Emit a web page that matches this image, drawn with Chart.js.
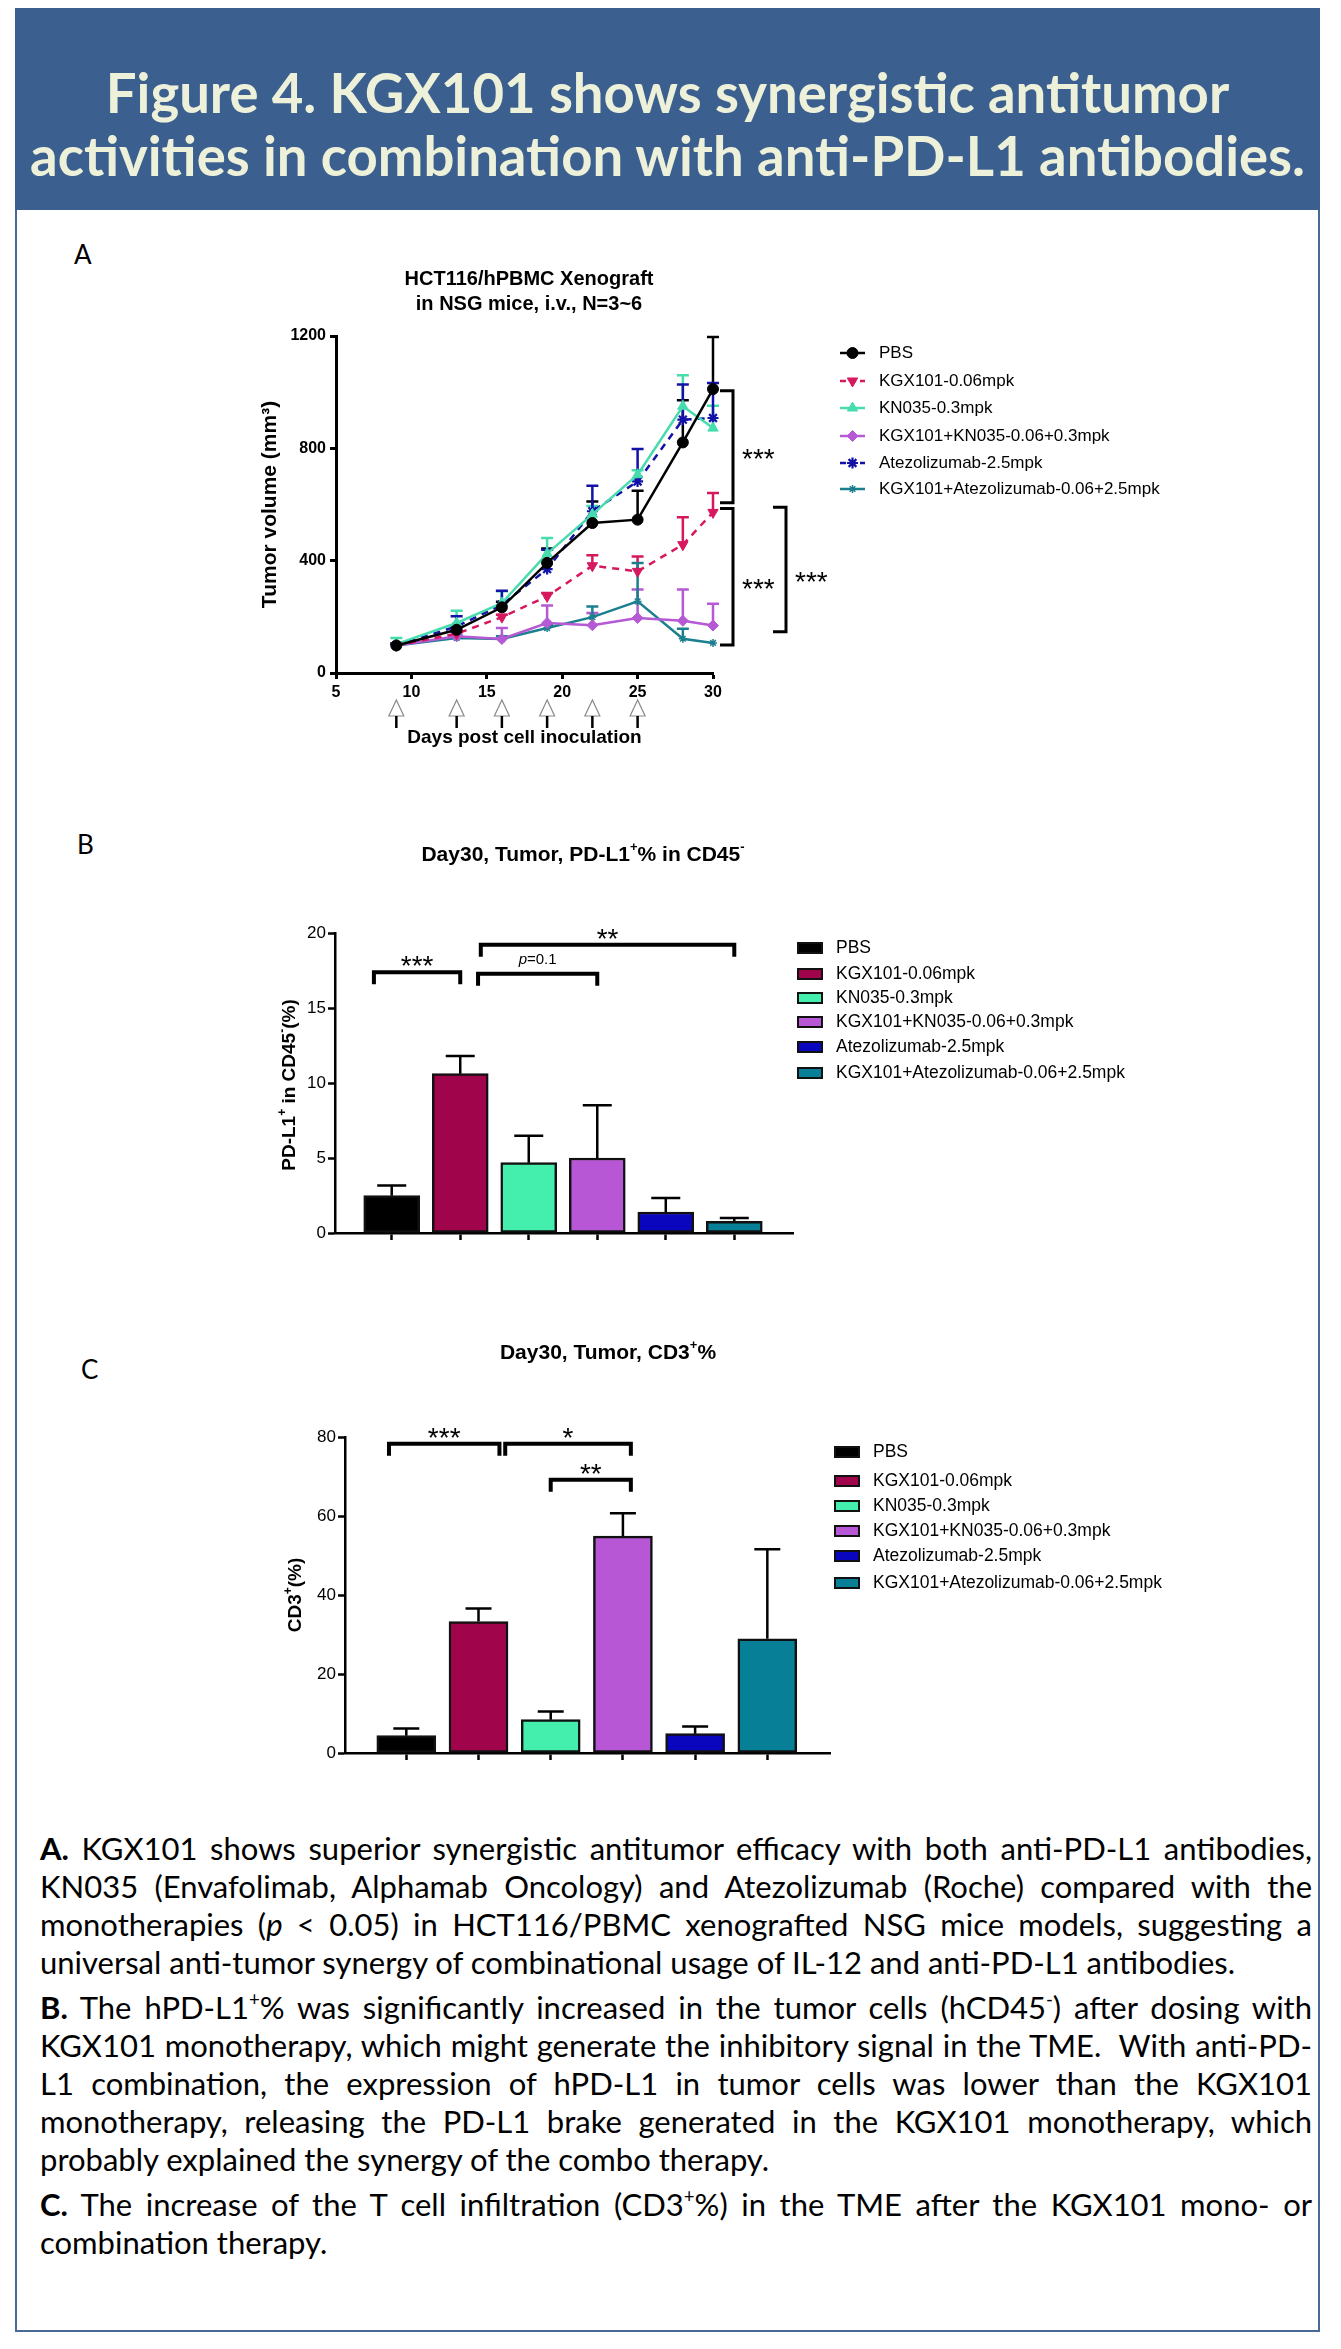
<!DOCTYPE html>
<html>
<head>
<meta charset="utf-8">
<title>Figure 4</title>
<script src="https://cdn.jsdelivr.net/npm/chart.js@4.4.1/dist/chart.umd.min.js"></script>
<style>
  html, body { margin: 0; padding: 0; background: #fff; }
  body { position: relative; width: 1341px; height: 2349px; overflow: hidden; }
  #header { position: absolute; left: 15px; top: 8px; width: 1305px; height: 202px; background: #3b5f8f; color: #eef1d9;
            font-family: Lato, "Open Sans", sans-serif; font-weight: bold; font-size: 46px; line-height: 63px;
            text-align: center; padding-top: 53px; box-sizing: border-box; white-space: nowrap; }
  #panel { position: absolute; left: 15px; top: 210px; width: 1305px; height: 2122px; border: 2px solid #4a6a96;
           border-top: none; box-sizing: border-box; }
  .tag { position: absolute; font-family: Lato, sans-serif; font-size: 26px; line-height: 26px; }
  canvas { position: absolute; }
  #text { position: absolute; left: 40px; top: 1829px; width: 1272px; font-family: Lato, sans-serif; font-size: 27px; color: #000; }
  #text .l { height: 38px; line-height: 38px; }
  #text .p + .p { margin-top: 7px; }
  #text .j { text-align: justify; text-align-last: justify; }
  sup { font-size: 60%; line-height: 0; vertical-align: 0.7em; }
</style>
</head>
<body>
<div id="header"><span id="h1">Figure 4. KGX101 shows synergistic antitumor</span><br><span id="h2">activities in combination with anti-PD-L1 antibodies.</span></div>
<div id="panel"></div>
<div class="tag" style="left:74px;top:241px">A</div>
<div class="tag" style="left:77px;top:831px">B</div>
<div class="tag" style="left:81px;top:1356px">C</div>

<canvas id="chartA" width="1140" height="540" style="left:140px;top:240px"></canvas>
<canvas id="chartB" width="1140" height="440" style="left:140px;top:830px"></canvas>
<canvas id="chartC" width="1140" height="500" style="left:140px;top:1300px"></canvas>

<div id="text">
  <div class="p">
    <div class="l" data-j="1"><span><b>A.</b> KGX101 shows superior synergistic antitumor efficacy with both anti-PD-L1 antibodies,</span></div>
    <div class="l" data-j="1"><span>KN035 (Envafolimab, Alphamab Oncology) and Atezolizumab (Roche) compared with the</span></div>
    <div class="l" data-j="1"><span>monotherapies (<i>p</i> &lt; 0.05) in HCT116/PBMC xenografted NSG mice models, suggesting a</span></div>
    <div class="l"><span>universal anti-tumor synergy of combinational usage of IL-12 and anti-PD-L1 antibodies.</span></div>
  </div>
  <div class="p">
    <div class="l" data-j="1"><span><b>B.</b> The hPD-L1<sup>+</sup>% was significantly increased in the tumor cells (hCD45<sup>-</sup>) after dosing with</span></div>
    <div class="l" data-j="1"><span>KGX101 monotherapy, which might generate the inhibitory signal in the TME.&nbsp; With anti-PD-</span></div>
    <div class="l" data-j="1"><span>L1 combination, the expression of hPD-L1 in tumor cells was lower than the KGX101</span></div>
    <div class="l" data-j="1"><span>monotherapy, releasing the PD-L1 brake generated in the KGX101 monotherapy, which</span></div>
    <div class="l"><span>probably explained the synergy of the combo therapy.</span></div>
  </div>
  <div class="p">
    <div class="l" data-j="1"><span><b>C.</b> The increase of the T cell infiltration (CD3<sup>+</sup>%) in the TME after the KGX101 mono- or</span></div>
    <div class="l"><span>combination therapy.</span></div>
  </div>
</div>

<script>
const FONT = '"Liberation Sans", Arial, Helvetica, sans-serif';
Chart.defaults.font.family = FONT;
Chart.defaults.color = '#000';
Chart.defaults.animation = false;

// ---- data ----
const groups = ['PBS', 'KGX101-0.06mpk', 'KN035-0.3mpk', 'KGX101+KN035-0.06+0.3mpk',
                'Atezolizumab-2.5mpk', 'KGX101+Atezolizumab-0.06+2.5mpk'];

// A: tumor volume (mm3), mean and SEM per measuring day
const days = [9, 13, 16, 19, 22, 25, 28, 30];
const doseDays = [9, 13, 16, 19, 22, 25];
const dayTicks = [5, 10, 15, 20, 25, 30];
const volTicks = [0, 400, 800, 1200];

const pbsVol = [98, 154, 234, 392, 534, 546, 821, 1011];
const pbsSem = [8, 14, 20, 51, 77, 103, 150, 185];
const kgxVol = [98, 140, 199, 273, 382, 362, 457, 572];
const kgxSem = [6, 8, 8, 12, 37, 53, 98, 69];
const kn035Vol = [103, 178, 249, 425, 565, 706, 950, 872];
const kn035Sem = [22, 44, 42, 56, 30, 16, 110, 80];
const kgxKn035Vol = [98, 131, 121, 178, 170, 196, 186, 169];
const kgxKn035Sem = [6, 10, 39, 62, 44, 101, 111, 78];
const atezoVol = [98, 166, 243, 370, 576, 682, 902, 908];
const atezoSem = [6, 36, 50, 69, 91, 116, 125, 125];
const kgxAtezoVol = [98, 125, 121, 160, 199, 255, 122, 107];
const kgxAtezoSem = [6, 8, 10, 12, 38, 137, 36, 0];

const volMeans = [pbsVol, kgxVol, kn035Vol, kgxKn035Vol, atezoVol, kgxAtezoVol];
const volSems = [pbsSem, kgxSem, kn035Sem, kgxKn035Sem, atezoSem, kgxAtezoSem];

// significance brackets on the right of A (volume range, column)
const volSig = [
  { from: 1005, to: 606, label: '***', col: 0 },
  { from: 586, to: 100, label: '***', col: 0 },
  { from: 590, to: 147, label: '***', col: 1 }
];

// B: PD-L1+ % in CD45-
const pdl1Mean = [2.49, 10.62, 4.69, 5.0, 1.4, 0.78];
const pdl1Sem = [0.67, 1.18, 1.8, 3.51, 0.93, 0.22];
const pdl1Ticks = [0, 5, 10, 15, 20];
const pdl1Sig = [
  { x1: 0.74, x2: 2.0, y: 17.38, label: '***' },
  { x1: 2.26, x2: 4.0, y: 17.29, label: 'p=0.1' },
  { x1: 2.3, x2: 6.0, y: 19.22, label: '**' }
];

// C: CD3+ %
const cd3Mean = [4.39, 33.3, 8.44, 54.9, 4.9, 28.9];
const cd3Sem = [1.81, 3.3, 2.06, 5.8, 1.8, 22.7];
const cd3Ticks = [0, 20, 40, 60, 80];
const cd3Sig = [
  { x1: 0.76, x2: 2.29, y: 78.3, label: '***' },
  { x1: 2.37, x2: 4.11, y: 78.3, label: '*' },
  { x1: 3.0, x2: 4.11, y: 69.2, label: '**' }
];

// ---- looks ----
const lineColors = ['#000000', '#d6195f', '#47dcae', '#b55ad4', '#1212a6', '#1b7f8e'];
const barColors = ['#000000', '#a0044a', '#44eead', '#b857d6', '#0a06be', '#077f96'];
const lineLook = [
  { style: 'circle', r: 5.5, dash: [] },
  { style: 'triangle', r: 6, rot: 180, dash: [7, 6] },
  { style: 'triangle', r: 6, dash: [] },
  { style: 'rectRot', r: 5.5, dash: [] },
  { style: 'star', r: 5.5, dash: [7, 6], bw: 2.2 },
  { style: 'star', r: 4, dash: [], bw: 1.5 }
];

// ---- fit the html text ----
(function () {
  const h2 = document.getElementById('h2');
  const header = document.getElementById('header');
  header.style.fontSize = (46 * 1275 / h2.getBoundingClientRect().width) + 'px';

  const text = document.getElementById('text');
  const spans = [...text.querySelectorAll('.l span')];
  const ws = spans.map(s => s.getBoundingClientRect().width);
  let fs = 27 * 1195 / ws[3];
  const widest = Math.max(...ws.filter((w, i) => spans[i].parentNode.dataset.j));
  fs = Math.min(fs, 27 * 1266 / widest);
  text.style.fontSize = fs + 'px';
  text.querySelectorAll('.l[data-j]').forEach(d => d.classList.add('j'));
})();

// ---- helpers ----
function fixTicks(values) {
  return s => { s.ticks = values.map(v => ({ value: v })); };
}

// parts: [[text, isSup], ...]
function richText(ctx, parts, x, y, size, rotate) {
  ctx.save();
  ctx.translate(x, y);
  if (rotate) ctx.rotate(-Math.PI / 2);
  const base = 'bold ' + size + 'px ' + FONT;
  const sup = 'bold ' + Math.round(size * 0.62) + 'px ' + FONT;
  let w = 0;
  parts.forEach(p => { ctx.font = p[1] ? sup : base; w += ctx.measureText(p[0]).width; });
  let cx = -w / 2;
  ctx.textAlign = 'left';
  ctx.textBaseline = 'middle';
  ctx.fillStyle = '#000';
  parts.forEach(p => {
    ctx.font = p[1] ? sup : base;
    ctx.fillText(p[0], cx, p[1] ? -size * 0.38 : 0);
    cx += ctx.measureText(p[0]).width;
  });
  ctx.restore();
}

function sigLabel(ctx, label, x, cy, align) {
  ctx.save();
  ctx.fillStyle = '#000';
  ctx.textBaseline = 'alphabetic';
  if (label[0] === 'p') {
    ctx.font = 'italic 15px ' + FONT;
    const w1 = ctx.measureText('p').width;
    ctx.font = '15px ' + FONT;
    const w2 = ctx.measureText(label.slice(1)).width;
    const x0 = align === 'center' ? x - (w1 + w2) / 2 : x;
    ctx.textAlign = 'left';
    ctx.font = 'italic 15px ' + FONT;
    ctx.fillText('p', x0, cy + 5.5);
    ctx.font = '15px ' + FONT;
    ctx.fillText(label.slice(1), x0 + w1, cy + 5.5);
  } else {
    ctx.textAlign = align;
    ctx.font = '28px ' + FONT;
    ctx.fillText(label, x, cy + 16);
  }
  ctx.restore();
}

function drawErrors(chart, sems, cap, colorOf) {
  const ctx = chart.ctx, ys = chart.scales.y;
  ctx.save();
  ctx.lineWidth = 2.5;
  ctx.setLineDash([]);
  sems.forEach((sem, di) => {
    const meta = chart.getDatasetMeta(di);
    const ds = chart.data.datasets[di];
    meta.data.forEach((el, i) => {
      if (!sem[i]) return;
      const top = ys.getPixelForValue(ds.data[i].y + sem[i]);
      ctx.strokeStyle = colorOf(di);
      ctx.beginPath();
      ctx.moveTo(el.x, el.y);
      ctx.lineTo(el.x, top);
      ctx.moveTo(el.x - cap / 2, top);
      ctx.lineTo(el.x + cap / 2, top);
      ctx.stroke();
    });
  });
  ctx.restore();
}

const axisGrid = w => ({ offset: false, drawOnChartArea: false, drawTicks: true, tickLength: w.len, tickWidth: w.width, tickColor: '#000' });

// ---- A: tumor growth curves ----
const panelA = {
  id: 'panelA',
  beforeDatasetsDraw(chart) {
    drawErrors(chart, volSems, 12, di => lineColors[di]);
  },
  afterDraw(chart) {
    const ctx = chart.ctx, area = chart.chartArea, xs = chart.scales.x, ys = chart.scales.y;
    richText(ctx, [['HCT116/hPBMC Xenograft']], 389, 39, 20);
    richText(ctx, [['in NSG mice, i.v., N=3~6']], 389, 64, 20);

    // dosing arrows
    ctx.save();
    doseDays.forEach(d => {
      const x = xs.getPixelForValue(d), b = area.bottom;
      ctx.beginPath();
      ctx.moveTo(x, b + 27);
      ctx.lineTo(x - 7.5, b + 43);
      ctx.lineTo(x + 7.5, b + 43);
      ctx.closePath();
      ctx.strokeStyle = '#8a8a8a';
      ctx.lineWidth = 1.2;
      ctx.stroke();
      ctx.beginPath();
      ctx.moveTo(x, b + 43);
      ctx.lineTo(x, b + 55);
      ctx.strokeStyle = '#000';
      ctx.lineWidth = 2.5;
      ctx.stroke();
    });

    // brackets
    volSig.forEach(s => {
      const x = area.right + 20 + s.col * 53;
      const y1 = ys.getPixelForValue(s.from), y2 = ys.getPixelForValue(s.to);
      ctx.beginPath();
      ctx.moveTo(x - 13, y1);
      ctx.lineTo(x, y1);
      ctx.lineTo(x, y2);
      ctx.lineTo(x - 13, y2);
      ctx.lineWidth = 3;
      ctx.strokeStyle = '#000';
      ctx.stroke();
      sigLabel(ctx, s.label, x + 9, (y1 + y2) / 2 + 5, 'left');
    });

    // legend
    const ly = [113, 141, 168, 196, 223, 249];
    groups.forEach((g, k) => {
      const look = lineLook[k];
      ctx.strokeStyle = lineColors[k];
      ctx.fillStyle = lineColors[k];
      ctx.lineWidth = 2.5;
      ctx.setLineDash(look.dash.length ? [6, 4] : []);
      ctx.beginPath();
      ctx.moveTo(700, ly[k]);
      ctx.lineTo(725, ly[k]);
      ctx.stroke();
      ctx.setLineDash([]);
      ctx.lineWidth = look.bw || 1;
      Chart.helpers.drawPoint(ctx, { pointStyle: look.style, radius: look.r, rotation: look.rot || 0, borderWidth: look.bw || 1 }, 712.5, ly[k]);
      ctx.fillStyle = '#000';
      ctx.font = '17px ' + FONT;
      ctx.textAlign = 'left';
      ctx.textBaseline = 'middle';
      ctx.fillText(g, 739, ly[k]);
    });
    ctx.restore();
  }
};

new Chart(document.getElementById('chartA'), {
  type: 'line',
  data: {
    datasets: groups.map((g, k) => ({
      label: g,
      data: days.map((d, i) => ({ x: d, y: volMeans[k][i] })),
      borderColor: lineColors[k],
      backgroundColor: lineColors[k],
      borderWidth: 2.5,
      borderDash: lineLook[k].dash,
      pointStyle: lineLook[k].style,
      pointRadius: lineLook[k].r,
      pointRotation: lineLook[k].rot || 0,
      pointBorderWidth: lineLook[k].bw || 1,
      pointBackgroundColor: lineColors[k],
      pointBorderColor: lineColors[k],
      tension: 0,
      clip: false
    }))
  },
  options: {
    responsive: false,
    layout: { padding: { left: 0, top: 96, right: 567, bottom: 0 } },
    plugins: { legend: { display: false }, tooltip: { enabled: false } },
    scales: {
      x: {
        type: 'linear', min: 5, max: 30,
        afterBuildTicks: fixTicks(dayTicks),
        afterFit: s => { s.height = 107; },
        ticks: { font: { size: 16, weight: 'bold' }, padding: 4, maxRotation: 0, color: '#000', callback: v => String(v) },
        grid: axisGrid({ len: 6, width: 3 }),
        border: { color: '#000', width: 3 },
        title: { display: true, text: 'Days post cell inoculation', font: { size: 19, weight: 'bold' }, padding: { bottom: 31 }, color: '#000' }
      },
      y: {
        min: 0, max: 1200,
        afterBuildTicks: fixTicks(volTicks),
        afterFit: s => { s.width = 196; },
        ticks: { font: { size: 16, weight: 'bold' }, padding: 4, color: '#000', callback: v => String(v) },
        grid: axisGrid({ len: 6, width: 3 }),
        border: { color: '#000', width: 3 },
        title: { display: true, text: 'Tumor volume (mm\u00b3)', font: { size: 21, weight: 'bold' }, padding: { top: 118 }, color: '#000' }
      }
    }
  },
  plugins: [panelA]
});

// ---- B and C: bar panels ----
function barChart(cfg) {
  const plugin = {
    id: 'barPanel',
    afterDatasetsDraw(chart) {
      drawErrors(chart, [cfg.sem], cfg.cap, () => '#000');
    },
    afterDraw(chart) {
      const ctx = chart.ctx, xs = chart.scales.x, ys = chart.scales.y;
      richText(ctx, cfg.title, cfg.titleX, cfg.titleY, 21);
      richText(ctx, cfg.yTitle, cfg.yTitleX, cfg.yTitleY, 19, true);
      ctx.save();
      cfg.sig.forEach(s => {
        const x1 = xs.getPixelForValue(s.x1), x2 = xs.getPixelForValue(s.x2), y = ys.getPixelForValue(s.y);
        ctx.beginPath();
        ctx.moveTo(x1, y + 12);
        ctx.lineTo(x1, y);
        ctx.lineTo(x2, y);
        ctx.lineTo(x2, y + 12);
        ctx.lineWidth = 4;
        ctx.strokeStyle = '#000';
        ctx.stroke();
        sigLabel(ctx, s.label, (x1 + x2) / 2, y - (s.label[0] === 'p' ? 15 : 13), 'center');
      });
      groups.forEach((g, k) => {
        const y = cfg.legendY[k];
        ctx.fillStyle = barColors[k];
        ctx.fillRect(cfg.legendX, y - 5, 24, 10);
        ctx.strokeStyle = '#111';
        ctx.lineWidth = 2;
        ctx.strokeRect(cfg.legendX, y - 5, 24, 10);
        ctx.fillStyle = '#000';
        ctx.font = '17.5px ' + FONT;
        ctx.textAlign = 'left';
        ctx.textBaseline = 'middle';
        ctx.fillText(g, cfg.legendX + 38, y);
      });
      ctx.restore();
    }
  };

  const canvas = document.getElementById(cfg.canvas);
  new Chart(canvas, {
    type: 'bar',
    data: {
      datasets: [{
        data: cfg.mean.map((v, i) => ({ x: i + 1, y: v })),
        backgroundColor: barColors,
        borderColor: '#111',
        borderWidth: 2.5,
        borderSkipped: false,
        barThickness: cfg.bw
      }]
    },
    options: {
      responsive: false,
      layout: { padding: { left: 0, top: cfg.top, right: cfg.right, bottom: 0 } },
      plugins: { legend: { display: false }, tooltip: { enabled: false } },
      scales: {
        x: {
          type: 'linear', min: cfg.xmin, max: cfg.xmax, offset: false,
          afterBuildTicks: fixTicks(groups.map((g, i) => i + 1)),
          afterFit: s => { s.height = canvas.height - cfg.bottom; },
          ticks: { callback: () => '', padding: 0 },
          grid: axisGrid({ len: 7, width: 2.5 }),
          border: { color: '#000', width: 2.5 }
        },
        y: {
          min: 0, max: cfg.ymax,
          afterBuildTicks: fixTicks(cfg.ticks),
          afterFit: s => { s.width = cfg.left; },
          ticks: { font: { size: 17 }, padding: 2, color: '#000' },
          grid: axisGrid({ len: 7, width: 2.5 }),
          border: { color: '#000', width: 2.5 }
        }
      }
    },
    plugins: [plugin]
  });
}

barChart({
  canvas: 'chartB', mean: pdl1Mean, sem: pdl1Sem, ticks: pdl1Ticks, sig: pdl1Sig, ymax: 20,
  xmin: 0.172, xmax: 6.857, left: 195, top: 103, right: 487, bottom: 403, bw: 56, cap: 29,
  title: [['Day30, Tumor, PD-L1'], ['+', 1], ['% in CD45'], ['-', 1]], titleX: 443, titleY: 25,
  yTitle: [['PD-L1'], ['+', 1], [' in CD45'], ['-', 1], ['(%)']], yTitleX: 150, yTitleY: 255,
  legendX: 658, legendY: [118, 144, 168, 192, 217, 243]
});

barChart({
  canvas: 'chartC', mean: cd3Mean, sem: cd3Sem, ticks: cd3Ticks, sig: cd3Sig, ymax: 80,
  xmin: 0.151, xmax: 6.868, left: 205, top: 137, right: 450, bottom: 453, bw: 59, cap: 26,
  title: [['Day30, Tumor, CD3'], ['+', 1], ['%']], titleX: 468, titleY: 53,
  yTitle: [['CD3'], ['+', 1], ['(%)']], yTitleX: 156, yTitleY: 295,
  legendX: 695, legendY: [152, 181, 206, 231, 256, 283]
});
</script>
</body>
</html>
